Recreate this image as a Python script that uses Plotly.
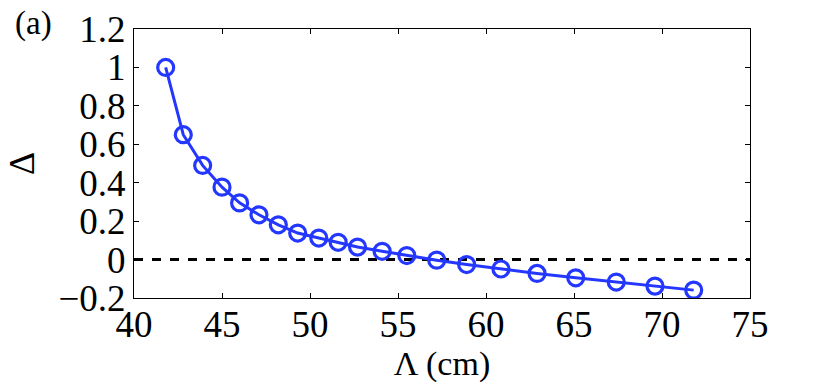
import plotly.graph_objects as go

# Lambda (cm) and Delta
wavelength_cm = [41.8, 42.8, 43.9, 45.0, 46.0, 47.1, 48.2, 49.3, 50.5, 51.6, 52.7,
                 54.1, 55.5, 57.2, 58.9, 60.85, 62.9, 65.1, 67.4, 69.6, 71.8]
delta = [1.0, 0.65, 0.49, 0.377, 0.295, 0.233, 0.181, 0.138, 0.112, 0.09, 0.065,
         0.043, 0.021, -0.003, -0.026, -0.049, -0.072, -0.095, -0.117, -0.138, -0.159]
zero_x = [40, 75]
zero_y = [0, 0]
x_ticks = [40, 45, 50, 55, 60, 65, 70, 75]
y_ticks = [-0.2, 0, 0.2, 0.4, 0.6, 0.8, 1, 1.2]
y_ticktext = ["−0.2", "0", "0.2", "0.4", "0.6", "0.8", "1", "1.2"]

blue = "rgb(35,55,255)"
font = "Liberation Serif"

fig = go.Figure()
# Zero reference line
fig.add_trace(go.Scatter(x=zero_x, y=zero_y, mode="lines",
                         line=dict(color="black", width=3, dash="dash"),
                         showlegend=False, hoverinfo="skip"))
fig.add_trace(go.Scatter(x=wavelength_cm, y=delta, mode="lines+markers",
                         line=dict(color=blue, width=3),
                         marker=dict(symbol="circle-open", size=16, color=blue,
                                     line=dict(width=3.2, color=blue)),
                         showlegend=False))

axis_style = dict(showline=True, linecolor="black", linewidth=1, mirror="ticks",
                  ticks="inside", ticklen=5, tickcolor="black", showgrid=False,
                  zeroline=False, automargin=False,
                  tickfont=dict(family=font, size=37, color="black"))

fig.update_layout(
    width=830, height=387,
    margin=dict(l=134, r=80, t=29, b=89),
    paper_bgcolor="white", plot_bgcolor="white",
    xaxis=dict(range=[40, 75], tickvals=x_ticks, ticklabelstandoff=-6,
               title=dict(text="Λ (cm)", font=dict(family=font, size=34, color="black"),
                          standoff=3),
               **axis_style),
    yaxis=dict(range=[-0.2, 1.2], tickvals=y_ticks, ticktext=y_ticktext,
               title=dict(text="Δ", font=dict(family=font, size=36, color="black"),
                          standoff=12),
               **axis_style),
    annotations=[dict(text="(a)", x=-0.196, y=1.022, xref="paper", yref="paper",
                      xanchor="left", yanchor="middle", showarrow=False,
                      font=dict(family=font, size=33, color="black"))],
)

# drop the default page margin so the figure fills the window exactly
fig.write_html("out.html", config={"displayModeBar": False},
               post_script="document.body.style.margin='0';")
